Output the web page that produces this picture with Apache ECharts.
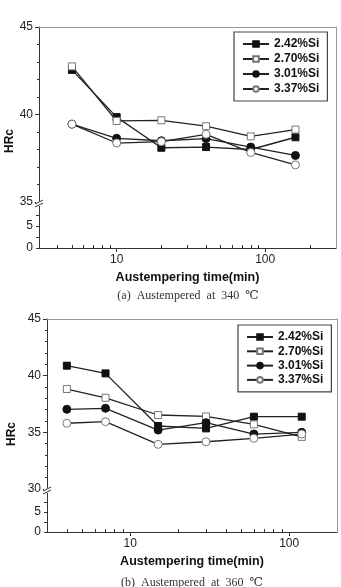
<!DOCTYPE html>
<html>
<head>
<meta charset="utf-8">
<script src="https://cdn.jsdelivr.net/npm/echarts@6/dist/echarts.min.js"></script>
<style>
  html, body { margin: 0; padding: 0; background: #fff; }
  #chart { width: 341px; height: 587px; }
</style>
</head>
<body>
<div id="chart"></div>
<script>
// 数据
var seriesNames = ['2.42%Si', '2.70%Si', '3.01%Si', '3.37%Si']

// (a) 340 ℃
var timeA = [5, 10, 20, 40, 80, 160]
var a242 = [42.55, 39.85, 38.1, 38.14, 38.0, 38.7]
var a270 = [42.75, 39.63, 39.67, 39.33, 38.75, 39.14]
var a301 = [39.45, 38.64, 38.5, 38.62, 38.14, 37.66]
var a337 = [39.45, 38.37, 38.45, 38.87, 37.83, 37.12]

// (b) 360 ℃
var timeB = [4, 7, 15, 30, 60, 120]
var b242 = [40.88, 40.2, 35.56, 35.35, 36.38, 36.38]
var b270 = [38.82, 38.05, 36.53, 36.4, 35.7, 34.6]
var b301 = [37.03, 37.12, 35.2, 35.85, 34.85, 35.0]
var b337 = [35.8, 35.94, 33.94, 34.17, 34.47, 34.85]

var xMajorLabels = [10, 100]
var xMinorA = [4, 5, 6, 7, 8, 9, 20, 30, 40, 50, 60, 70, 80, 90, 200]
var xMinorB = [4, 5, 6, 7, 8, 9, 20, 30, 40, 50, 60, 70, 80, 90]
var lowLabels = [0, 5]
var lowTicks = [0, 2.5, 5, 7.5]

var FONT = 'Arial, "Liberation Sans", sans-serif'
var SERIF = '"Liberation Serif", "DejaVu Serif", serif'

var chart = echarts.init(document.getElementById('chart'))

// 标记样式
var marks = [
  { symbol: 'rect', size: 7, fill: '#111', border: '#111' },
  { symbol: 'rect', size: 7, fill: '#fff', border: '#777' },
  { symbol: 'circle', size: 8, fill: '#111', border: '#111' },
  { symbol: 'circle', size: 8, fill: '#fff', border: '#777' }
]

function zip (xs, ys) {
  return xs.map(function (x, i) { return [x, ys[i]] })
}

function makeSeries (xs, list, xIdx, yIdx) {
  return list.map(function (ys, i) {
    return {
      name: seriesNames[i],
      type: 'line',
      xAxisIndex: xIdx,
      yAxisIndex: yIdx,
      data: zip(xs, ys),
      symbol: marks[i].symbol,
      symbolSize: marks[i].size,
      showAllSymbol: true,
      lineStyle: { color: '#222', width: 1.3 },
      itemStyle: { color: marks[i].fill, borderColor: marks[i].border, borderWidth: 1 },
      z: 2 + i,
      animation: false
    }
  })
}

// 布局
var A = { left: 39, width: 297, top: 27, upH: 175, lowH: 46, yMin: 35, yMax: 45, lowMax: 10.5, xMax: 300, minor: xMinorA }
var B = { left: 47, width: 290, top: 319, upH: 170, lowH: 43, yMin: 30, yMax: 45, lowMax: 10.75, xMax: 200, minor: xMinorB }

function grids (c) {
  return [
    { left: c.left, top: c.top, width: c.width, height: c.upH },
    { left: c.left, top: c.top + c.upH, width: c.width, height: c.lowH }
  ]
}

function xAxes (c, g) {
  var base = { type: 'log', logBase: 10, min: 3, max: c.xMax, splitLine: { show: false } }
  return [
    Object.assign({}, base, {
      gridIndex: g, position: 'top',
      axisLine: { lineStyle: { color: '#999' } },
      axisTick: { show: false }, axisLabel: { show: false }
    }),
    Object.assign({}, base, {
      gridIndex: g + 1, position: 'bottom',
      axisLine: { lineStyle: { color: '#333' } },
      axisTick: { customValues: xMajorLabels, length: 4, lineStyle: { color: '#333' } },
      axisLabel: { customValues: xMajorLabels, margin: 6, fontSize: 12, color: '#222', fontFamily: FONT },
      name: 'Austempering time(min)', nameLocation: 'middle', nameGap: 23,
      nameTextStyle: { fontSize: 12.5, fontWeight: 'bold', color: '#111', fontFamily: FONT }
    }),
    Object.assign({}, base, {
      gridIndex: g + 1, position: 'bottom',
      axisLine: { show: false },
      axisTick: { customValues: c.minor, inside: true, length: 3, lineStyle: { color: '#333' } },
      axisLabel: { show: false }
    })
  ]
}

function yAxes (c, g) {
  return [
    {
      type: 'value', gridIndex: g, min: c.yMin, max: c.yMax, interval: 5,
      axisLine: { show: true, lineStyle: { color: '#333' } },
      axisTick: { show: true, length: 4, lineStyle: { color: '#333' } },
      minorTick: { show: true, splitNumber: 5, length: 2, lineStyle: { color: '#333' } },
      axisLabel: { margin: 6, fontSize: 12, color: '#222', fontFamily: FONT },
      splitLine: { show: false }
    },
    {
      type: 'value', gridIndex: g, position: 'right', min: c.yMin, max: c.yMax,
      axisLine: { show: true, lineStyle: { color: '#999' } },
      axisTick: { show: false }, axisLabel: { show: false }, splitLine: { show: false }
    },
    {
      type: 'value', gridIndex: g + 1, min: 0, max: c.lowMax,
      axisLine: { show: true, lineStyle: { color: '#333' } },
      axisTick: { show: true, customValues: lowTicks, length: 3, lineStyle: { color: '#333' } },
      axisLabel: { customValues: lowLabels, margin: 6, fontSize: 12, color: '#222', fontFamily: FONT },
      splitLine: { show: false }
    },
    {
      type: 'value', gridIndex: g + 1, position: 'right', min: 0, max: c.lowMax,
      axisLine: { show: true, lineStyle: { color: '#999' } },
      axisTick: { show: false }, axisLabel: { show: false }, splitLine: { show: false }
    }
  ]
}

function legendBox (left, top, gap) {
  return {
    data: seriesNames, orient: 'vertical', left: left, top: top,
    itemWidth: 26, itemHeight: 7, itemGap: gap,
    padding: [5, 8, 5, 8],
    borderColor: '#444', borderWidth: 1.2,
    selectedMode: false,
    textStyle: { fontSize: 12, fontWeight: 'bold', color: '#111', fontFamily: FONT, lineHeight: 14 }
  }
}

function breakMark (x, y) {
  return [
    { type: 'rect', shape: { x: x - 3, y: y - 2, width: 6, height: 5 }, style: { fill: '#fff' }, z: 100 },
    { type: 'line', shape: { x1: x - 4, y1: y + 1, x2: x + 4, y2: y - 3 }, style: { stroke: '#333', lineWidth: 1 }, z: 101 },
    { type: 'line', shape: { x1: x - 4, y1: y + 4, x2: x + 4, y2: y }, style: { stroke: '#333', lineWidth: 1 }, z: 101 }
  ]
}

function label (text, x, y, opts) {
  return Object.assign({
    type: 'text', x: x, y: y, z: 100,
    style: Object.assign({ text: text, textAlign: 'center', textVerticalAlign: 'middle', fill: '#111' }, opts)
  })
}

var option = {
  animation: false,
  grid: grids(A).concat(grids(B)),
  xAxis: xAxes(A, 0).concat(xAxes(B, 2)),
  yAxis: yAxes(A, 0).concat(yAxes(B, 2)),
  legend: [legendBox(234, 32, 1), legendBox(238, 325, 0.3)],
  series: makeSeries(timeA, [a242, a270, a301, a337], 0, 0)
    .concat(makeSeries(timeB, [b242, b270, b301, b337], 3, 4)),
  graphic: [].concat(
    breakMark(A.left, A.top + A.upH + 1),
    breakMark(B.left, B.top + B.upH + 1),
    [
      Object.assign(label('HRc', 10, 141, { font: 'bold 12px ' + FONT }), { rotation: Math.PI / 2 }),
      Object.assign(label('HRc', 12, 434, { font: 'bold 12px ' + FONT }), { rotation: Math.PI / 2 }),
      label('(a)  Austempered  at  340  ℃', 188, 296, { font: '12px ' + SERIF, fill: '#333' }),
      label('(b)  Austempered  at  360  ℃', 192, 583, { font: '12px ' + SERIF, fill: '#333' })
    ]
  )
}

chart.setOption(option)
</script>
</body>
</html>
